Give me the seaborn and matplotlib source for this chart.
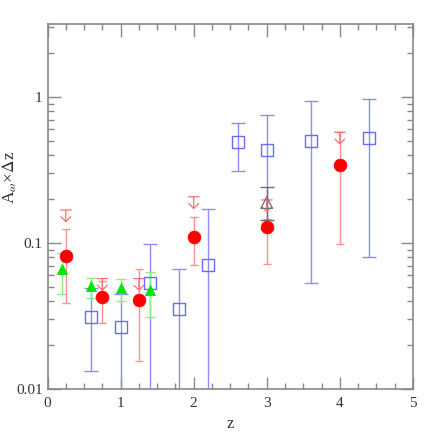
import numpy as np
import pandas as pd
import matplotlib
matplotlib.use("Agg")
import matplotlib.pyplot as plt
from matplotlib.path import Path
from matplotlib.ticker import FixedLocator, FixedFormatter, MultipleLocator, LogLocator, NullFormatter
import seaborn as sns

# red filled circles
red_z = [0.25, 0.75, 1.25, 2.0, 3.0, 4.0]
red_a = [0.0815, 0.0429, 0.0407, 0.110, 0.129, 0.342]
red_lo = [0.0386, 0.0282, 0.0155, 0.0703, 0.0718, 0.099]
red_hi = [0.124, 0.055, 0.066, 0.150, 0.145, 0.578]

# red upper limits
lim_z = [0.25, 0.75, 1.25, 2.0, 3.0, 4.0]
lim_a = [0.168, 0.057, 0.057, 0.207, 0.197, 0.573]

# green triangles
grn_z = [0.2, 0.6, 1.0, 1.4]
grn_a = [0.066, 0.0507, 0.0492, 0.0476]
grn_lo = [0.045, 0.0418, 0.0403, 0.031]
grn_hi = [0.085, 0.0578, 0.0564, 0.063]

# blue open squares (lower 0.001 = runs off the bottom)
blu_z = [0.6, 1.0, 1.4, 1.8, 2.2, 2.6, 3.0, 3.6, 4.4]
blu_a = [0.0313, 0.0266, 0.053, 0.0353, 0.071, 0.49, 0.436, 0.497, 0.526]
blu_lo = [0.0132, 0.001, 0.001, 0.001, 0.001, 0.31, 0.124, 0.053, 0.0798]
blu_hi = [0.049, 0.0445, 0.098, 0.066, 0.172, 0.667, 0.75, 0.943, 0.964]

# black open triangle
blk_z = [3.0]
blk_a = [0.189]
blk_lo = [0.144]
blk_hi = [0.241]

sns.set_style("ticks")
plt.rcParams['font.family'] = ['Liberation Serif', 'DejaVu Serif']
plt.rcParams['mathtext.fontset'] = 'stix'

fig = plt.figure(figsize=(4.36, 4.36), dpi=100)
ax = fig.add_axes([0.109, 0.108, 0.838, 0.837])


def errs(a, lo, hi):
    a = np.array(a)
    return [a - np.array(lo), np.array(hi) - a]


# error bars
ax.errorbar(blu_z, blu_a, yerr=errs(blu_a, blu_lo, blu_hi), fmt="none",
            ecolor="#8c8cff", elinewidth=1, capsize=4.7, capthick=1, zorder=2)
ax.errorbar(grn_z, grn_a, yerr=errs(grn_a, grn_lo, grn_hi), fmt="none",
            ecolor="#88ee88", elinewidth=1, capsize=3.3, capthick=1, zorder=2)
ax.errorbar(red_z, red_a, yerr=errs(red_a, red_lo, red_hi), fmt="none",
            ecolor="#ff9090", elinewidth=1, capsize=3.0, capthick=1, zorder=2)
ax.errorbar(blk_z, blk_a, yerr=errs(blk_a, blk_lo, blk_hi), fmt="none",
            ecolor="#707070", elinewidth=1, capsize=5, capthick=1, zorder=2)

# upper-limit marker: bar at the value, arrow below
ul_path = Path([(-1, 0), (1, 0), (0, 0), (0, -2), (-0.9, -1.1), (0, -2), (0.9, -1.1)],
               [Path.MOVETO, Path.LINETO, Path.MOVETO, Path.LINETO,
                Path.MOVETO, Path.LINETO, Path.LINETO])

sns.scatterplot(x=lim_z, y=lim_a, marker=ul_path, s=280, facecolors="none",
                edgecolor="#ff7070", linewidth=0.9, ax=ax, zorder=3)
sns.scatterplot(x=blu_z, y=blu_a, marker="s", s=75, facecolors="none",
                edgecolor="#6a6aff", linewidth=1, ax=ax, zorder=4)
sns.scatterplot(x=grn_z, y=grn_a, marker="^", s=55, color="#00e600",
                edgecolor="#00e600", linewidth=0.5, ax=ax, zorder=4)
sns.scatterplot(x=red_z, y=red_a, marker="o", s=85, color="#ff0000",
                edgecolor="#ff0000", linewidth=0.5, ax=ax, zorder=5)
sns.scatterplot(x=blk_z, y=blk_a, marker="^", s=70, facecolors="none",
                edgecolor="#707070", linewidth=0.9, ax=ax, zorder=5)

ax.set_yscale("log")
ax.set_xlim(0, 5)
ax.set_ylim(0.01, 10 ** 0.5)

axis_col = "#888888"
for sp in ax.spines.values():
    sp.set_visible(True)
    sp.set_color(axis_col)
    sp.set_linewidth(1.2)

ax.xaxis.set_major_locator(MultipleLocator(1))
ax.xaxis.set_minor_locator(MultipleLocator(0.25))
ax.yaxis.set_major_locator(FixedLocator([0.01, 0.1, 1]))
ax.yaxis.set_major_formatter(FixedFormatter(["0.01", "0.1", "1"]))
ax.yaxis.set_minor_locator(LogLocator(base=10, subs=np.arange(2, 10)))
ax.yaxis.set_minor_formatter(NullFormatter())

ax.tick_params(which="both", direction="in", top=True, right=True,
               color=axis_col, labelcolor="#333333", labelsize=11)
ax.tick_params(axis="x", which="major", pad=6)
ax.tick_params(which="major", length=9, width=1)
ax.tick_params(which="minor", length=4.5, width=1)

ax.set_xlabel("z", fontsize=12, color="#333333", labelpad=4)
ax.set_ylabel(r"A$_{\omega}$×$\Delta$z", fontsize=12.5, color="#333333")
ax.yaxis.set_label_coords(-0.078, 0.58)

fig.savefig("out.png", dpi=100)
